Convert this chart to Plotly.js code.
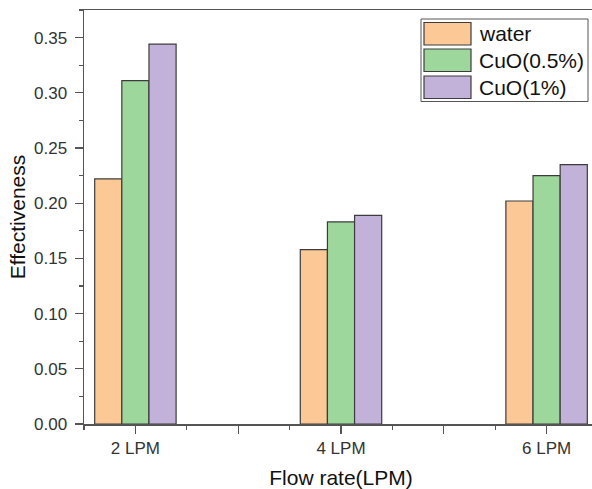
<!DOCTYPE html>
<html>
<head>
<meta charset="utf-8">
<script src="https://cdn.plot.ly/plotly-3.0.1.min.js"></script>
<style>
html,body{margin:0;padding:0;overflow:hidden;background:#fff;}
#chart{width:600px;height:489px;}
</style>
</head>
<body>
<div id="chart"></div>
<script>
// Data
const flowRates = [2, 4, 6];
const flowLabels = ["2 LPM", "4 LPM", "6 LPM"];
const seriesNames = ["water", "CuO(0.5%)", "CuO(1%)"];
const water = [0.222, 0.158, 0.202];
const cuo05 = [0.311, 0.183, 0.225];
const cuo1 = [0.344, 0.189, 0.235];
const seriesColors = ["#FCC896", "#9ED79B", "#C2B1D8"];

const seriesValues = [water, cuo05, cuo1];
const outline = "#3c3c3c";

const traces = seriesValues.map((vals, i) => ({
  type: "bar",
  name: seriesNames[i],
  x: flowRates,
  y: vals,
  marker: {color: seriesColors[i], line: {color: outline, width: 1.2}},
  showlegend: false,
  hoverinfo: "x+y"
}));

const W = 600, H = 489;
const M = {l: 84, r: 2, t: 10, b: 65};
const pw = W - M.l - M.r, ph = H - M.t - M.b;
const px = x => (x - M.l) / pw;
const py = y => (H - M.b - y) / ph;

const shapes = [];
const annotations = [];
// legend box
shapes.push({type: "rect", xref: "paper", yref: "paper",
  x0: px(421), x1: px(588), y0: py(101.5), y1: py(19),
  line: {color: "#555", width: 1}, fillcolor: "#fff"});
const rows = [[22.5, 45], [49, 71.5], [76, 98.5]];
rows.forEach((r, i) => {
  shapes.push({type: "rect", xref: "paper", yref: "paper",
    x0: px(424), x1: px(471), y0: py(r[1]), y1: py(r[0]),
    line: {color: outline, width: 1.2}, fillcolor: seriesColors[i]});
  annotations.push({xref: "paper", yref: "paper", x: px(477), y: py((r[0] + r[1]) / 2),
    xanchor: "left", yanchor: "middle", showarrow: false, text: seriesNames[i],
    font: {family: "Liberation Sans, Arial, sans-serif", size: 21, color: "#111"}});
});

const tickVals = [2, 3, 4, 5, 6];
const tickText = tickVals.map(v => { const k = flowRates.indexOf(v); return k >= 0 ? flowLabels[k] : ""; });

const layout = {
  width: W, height: H,
  margin: M,
  paper_bgcolor: "#fff", plot_bgcolor: "#fff",
  barmode: "group", bargap: 0.604, bargroupgap: 0,
  font: {family: "Liberation Sans, Arial, sans-serif", color: "#222"},
  xaxis: {
    range: [1.5, 6.5],
    tickmode: "array", tickvals: tickVals, ticktext: tickText,
    ticks: "outside", ticklen: 8, tickwidth: 1.3, tickcolor: "#555",
    minor: {dtick: 0.5, tick0: 1.5, ticks: "outside", ticklen: 4, tickwidth: 1.3, tickcolor: "#555", showgrid: false},
    showline: true, linecolor: "#555", linewidth: 1.5, mirror: true,
    showgrid: false, zeroline: false,
    tickfont: {size: 17, color: "#333"},
    title: {text: "Flow rate(LPM)", font: {size: 21, color: "#111"}, standoff: 13}
  },
  yaxis: {
    range: [0, 0.375],
    tickmode: "linear", tick0: 0, dtick: 0.05, tickformat: ".2f",
    ticks: "outside", ticklen: 8, tickwidth: 1.3, tickcolor: "#555",
    minor: {dtick: 0.025, ticks: "outside", ticklen: 4, tickwidth: 1.3, tickcolor: "#555", showgrid: false},
    showline: true, linecolor: "#555", linewidth: 1.5, mirror: true,
    showgrid: false, zeroline: false,
    tickfont: {size: 17, color: "#333"},
    ticklabelstandoff: 4,
    title: {text: "Effectiveness", font: {size: 21, color: "#111"}, standoff: 2}
  },
  shapes: shapes,
  annotations: annotations
};

Plotly.newPlot("chart", traces, layout, {displayModeBar: false, staticPlot: true});
</script>
</body>
</html>
